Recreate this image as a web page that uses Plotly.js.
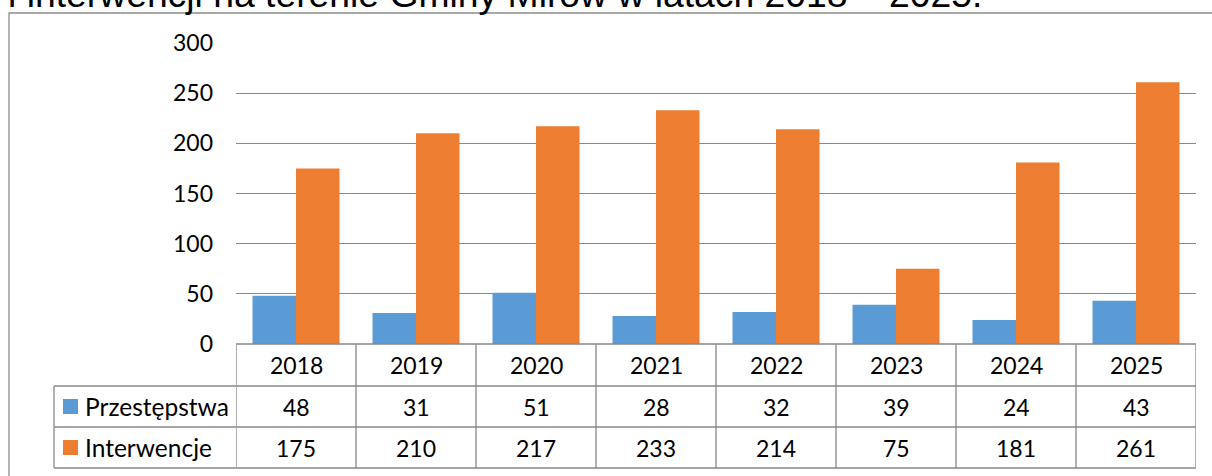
<!DOCTYPE html>
<html><head><meta charset="utf-8">
<script src="https://cdn.plot.ly/plotly-3.0.1.min.js"></script>
<style>html,body{margin:0;padding:0;background:#fff}#chart{width:1212px;height:476px}</style>
</head><body><div id="chart"></div>
<script>
// ---- data ----
const titleText = 'i interwencji na terenie Gminy Mirów w latach 2018 – 2025.';
const categories = ['2018', '2019', '2020', '2021', '2022', '2023', '2024', '2025'];
const seriesNames = ['Przestępstwa', 'Interwencje'];
const przestepstwa = [48, 31, 51, 28, 32, 39, 24, 43];
const interwencje = [175, 210, 217, 233, 214, 75, 181, 261];
const yTicks = [0, 50, 100, 150, 200, 250, 300];

// ---- layout geometry ----
const W = 1212, H = 476;
const L = 236, R = 16, T = 43, B = 8;
const plotW = W - L - R, plotH = H - T - B;
const baseY = 344;
const rowLines = [344, 386, 427, 468];
const py = p => (H - B - p) / plotH;          // pixel y -> paper y
const px = p => (p - L) / plotW;               // pixel x -> paper x
const splitFrac = py(baseY);

const blue = '#5B9BD5', orange = '#ED7D31', gridCol = '#888888';
const fontFam = 'Lato, "Open Sans", sans-serif';
const numSize = 23, labelSize = 24.5;
const series = [przestepstwa, interwencje];
const colors = [blue, orange];

const traces = series.map((vals, i) => ({
  type: 'bar', name: seriesNames[i], x: categories, y: vals,
  marker: {color: colors[i]}, hoverinfo: 'x+y+name'
}));

const shapes = [];
const annotations = [];
// outer frame
shapes.push({type: 'rect', xref: 'paper', yref: 'paper', x0: px(9), x1: px(1240), y0: py(500), y1: py(13),
  line: {color: '#8c8c8c', width: 1.3}, fillcolor: 'rgba(0,0,0,0)', layer: 'below'});
// table horizontal lines
shapes.push({type: 'line', xref: 'paper', yref: 'paper', x0: 0, x1: 1, y0: py(rowLines[0]), y1: py(rowLines[0]), line: {color: gridCol, width: 1.3}});
for (let k = 1; k < rowLines.length; k++) {
  shapes.push({type: 'line', xref: 'paper', yref: 'paper', x0: px(54), x1: 1, y0: py(rowLines[k]), y1: py(rowLines[k]), line: {color: gridCol, width: 1.3}});
}
// left edge of legend column
shapes.push({type: 'line', xref: 'paper', yref: 'paper', x0: px(54), x1: px(54), y0: py(rowLines[1]), y1: py(rowLines[3]), line: {color: gridCol, width: 1.3}});
// vertical category dividers
for (let c = 0; c <= categories.length; c++) {
  shapes.push({type: 'line', xref: 'x', yref: 'paper', x0: c - 0.5, x1: c - 0.5, y0: py(rowLines[0]), y1: py(rowLines[3]), line: {color: gridCol, width: 1.3}});
}
// table texts (x given as category index on the category axis)
const rowCenter = k => py((rowLines[k] + rowLines[k + 1]) / 2);
categories.forEach((c, i) => {
  annotations.push({xref: 'x', yref: 'paper', x: i, y: rowCenter(0), text: c, showarrow: false,
    xanchor: 'center', yanchor: 'middle', font: {family: fontFam, size: numSize, color: '#000'}});
  series.forEach((vals, s) => {
    annotations.push({xref: 'x', yref: 'paper', x: i, y: rowCenter(s + 1), text: String(vals[i]), showarrow: false,
      xanchor: 'center', yanchor: 'middle', font: {family: fontFam, size: numSize, color: '#000'}});
  });
});
// legend keys + names
seriesNames.forEach((n, s) => {
  const yc = (rowLines[s + 1] + rowLines[s + 2]) / 2;
  shapes.push({type: 'rect', xref: 'paper', yref: 'paper', x0: px(63), x1: px(78), y0: py(yc + 7.5), y1: py(yc - 7.5),
    line: {width: 0}, fillcolor: colors[s]});
  annotations.push({xref: 'paper', yref: 'paper', x: px(83), y: py(yc), text: n, showarrow: false,
    xanchor: 'left', yanchor: 'middle', font: {family: fontFam, size: labelSize, color: '#000'}});
});

const layout = {
  width: W, height: H,
  margin: {l: L, r: R, t: T, b: B, pad: 0},
  paper_bgcolor: '#fff', plot_bgcolor: '#fff',
  showlegend: false,
  barmode: 'group', bargap: 0.275, bargroupgap: 0,
  title: {text: titleText, xref: 'container', yref: 'container', x: 8 / W, xanchor: 'left',
    y: 1 - 7 / H, yanchor: 'bottom', font: {family: '"Liberation Sans", Arial, sans-serif', size: 37.3, color: '#000'}},
  xaxis: {type: 'category', range: [-0.5, categories.length - 0.5], showticklabels: false, showgrid: false,
    zeroline: false, showline: false, ticks: ''},
  yaxis: {domain: [splitFrac, 1], range: [0, 300], tickvals: yTicks, ticktext: yTicks.map(String),
    showgrid: true, gridcolor: gridCol, gridwidth: 1.3, zeroline: false, showline: false, ticks: '',
    ticklabelstandoff: 22, tickfont: {family: fontFam, size: numSize, color: '#000'}},
  shapes: shapes, annotations: annotations
};

Plotly.newPlot('chart', traces, layout, {displayModeBar: false});
</script></body></html>
